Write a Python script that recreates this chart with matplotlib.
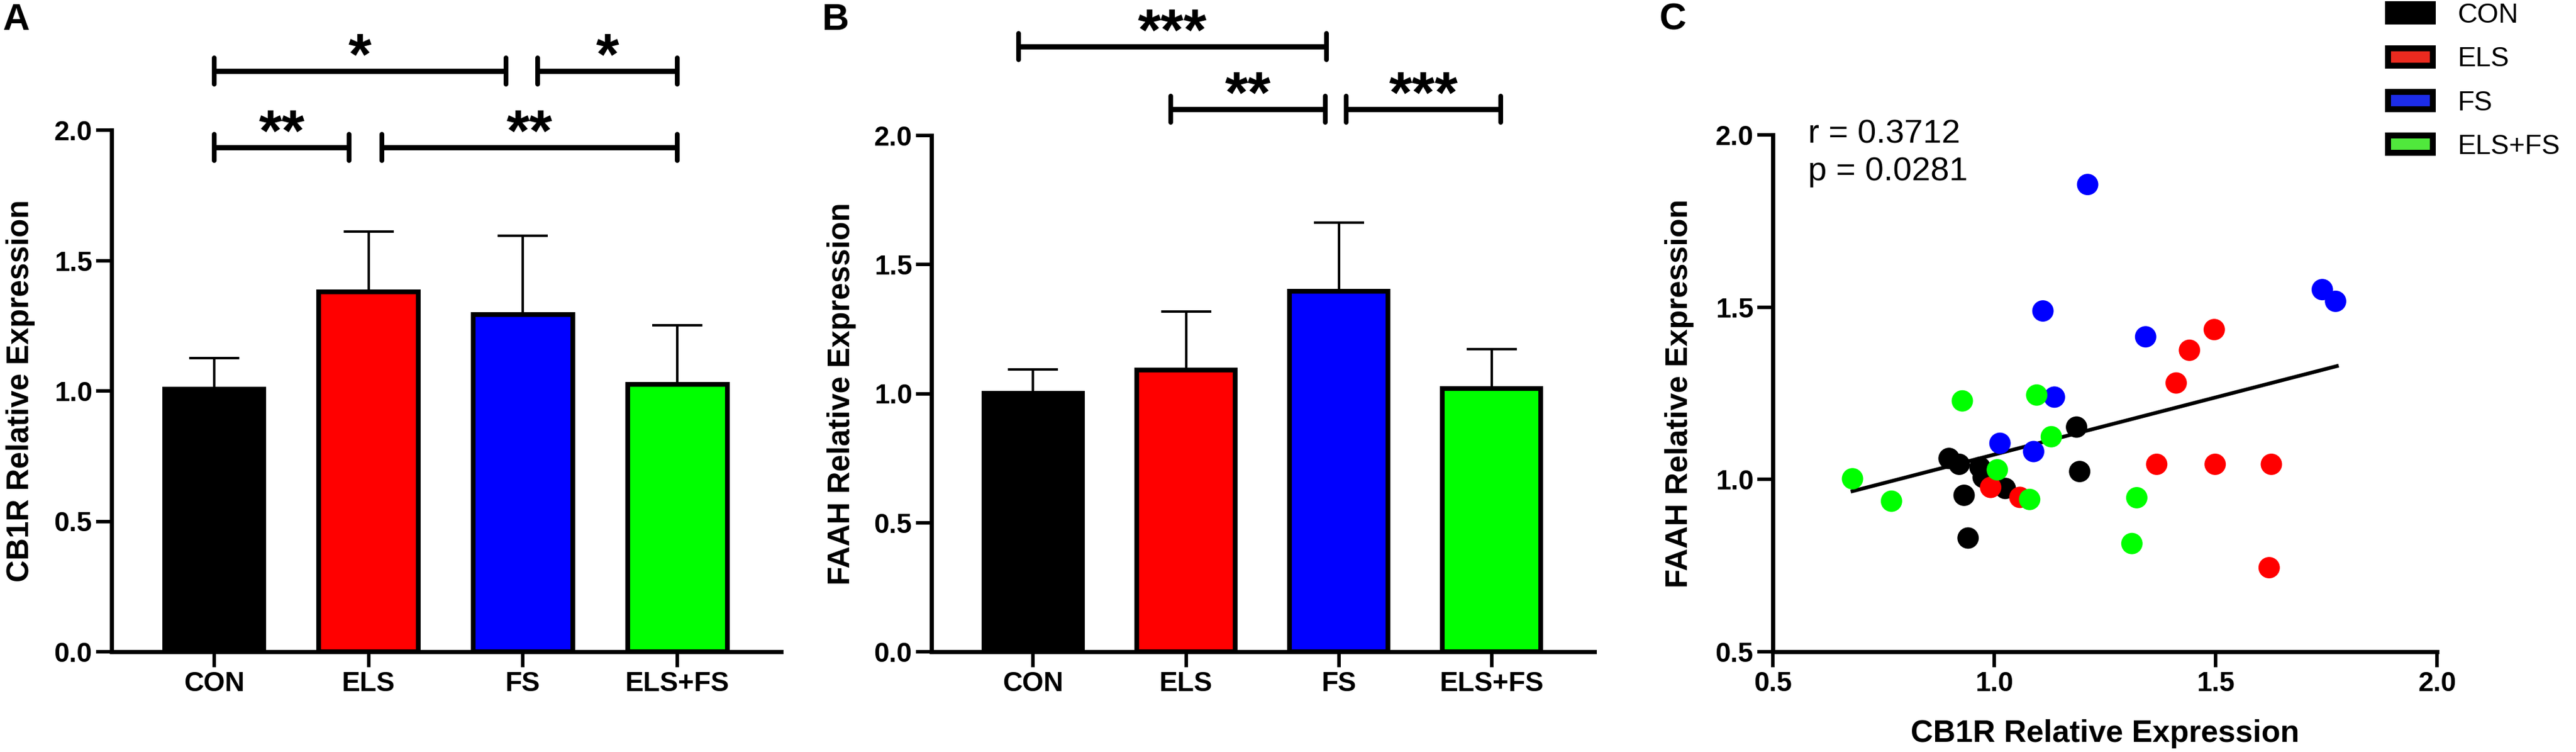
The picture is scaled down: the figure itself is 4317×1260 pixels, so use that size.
import numpy as np
import matplotlib
matplotlib.use('Agg')
import matplotlib.pyplot as plt
from matplotlib.patches import Patch
from matplotlib.textpath import TextPath
from matplotlib.font_manager import FontProperties
from matplotlib.ticker import FormatStrFormatter

# ---------------- data ----------------
categories = ['CON', 'ELS', 'FS', 'ELS+FS']
bar_colors = ['#000000', '#ff0000', '#0000ff', '#00ff00']
legend_colors = ['#000000', '#ea2a1f', '#1c2ce8', '#50e83c']

cb1r_mean = [1.007, 1.380, 1.292, 1.026]
cb1r_sem = [0.120, 0.232, 0.302, 0.226]
faah_mean = [1.002, 1.091, 1.397, 1.020]
faah_sem = [0.091, 0.226, 0.265, 0.153]

a_sig_start = [0.0, 2.095, 0.0, 1.086]
a_sig_end = [1.89, 3.0, 0.874, 3.0]
a_sig_y = [2.2265, 2.2265, 1.934, 1.934]
a_sig_text = ['*', '*', '**', '**']

b_sig_start = [-0.095, 0.90, 2.05]
b_sig_end = [1.92, 1.913, 3.06]
b_sig_y = [2.3445, 2.102, 2.102]
b_sig_text = ['***', '**', '***']

con_cb1r = [0.898, 0.921, 0.968, 0.975, 0.932, 0.941, 1.186, 1.193, 1.025]
con_faah = [1.061, 1.044, 1.035, 1.006, 0.954, 0.830, 1.152, 1.023, 0.974]
els_cb1r = [1.497, 1.441, 1.411, 1.367, 1.499, 1.626, 1.621, 0.992, 1.058]
els_faah = [1.435, 1.375, 1.280, 1.044, 1.044, 1.044, 0.744, 0.977, 0.948]
fs_cb1r = [1.211, 1.110, 1.342, 1.741, 1.771, 1.136, 1.013, 1.089]
fs_faah = [1.856, 1.489, 1.414, 1.551, 1.517, 1.239, 1.105, 1.081]
elsfs_cb1r = [0.680, 0.768, 0.928, 1.096, 1.129, 1.007, 1.080, 1.322, 1.311]
elsfs_faah = [1.002, 0.937, 1.228, 1.245, 1.124, 1.028, 0.942, 0.947, 0.814]

fit_x = [0.680, 1.774]
fit_y = [0.966, 1.329]
r_text = 'r = 0.3712'
p_text = 'p = 0.0281'

# ---------------- style ----------------
W, H, DPI = 4317, 1260, 300
PX = 72.0 / DPI  # points per pixel
plt.rcParams['font.family'] = ['Liberation Sans', 'DejaVu Sans']
plt.rcParams['font.weight'] = 'bold'
plt.rcParams['axes.labelweight'] = 'bold'

fig = plt.figure(figsize=(W / DPI, H / DPI), dpi=DPI)


def rect(l, t, r, b):
    return [l / W, 1 - b / H, (r - l) / W, (b - t) / H]


def style_axes(ax):
    for s in ['top', 'right']:
        ax.spines[s].set_visible(False)
    for s in ['left', 'bottom']:
        ax.spines[s].set_linewidth(1.7)
    ax.tick_params(axis='both', direction='out', length=6.3, width=1.4,
                   labelsize=11)
    ax.tick_params(axis='y', pad=1.5)
    ax.tick_params(axis='x', pad=1.5)


star_fp = FontProperties(family='Liberation Sans', weight='bold')
ext = TextPath((0, 0), '*', size=1, prop=star_fp).get_extents()
star_em_px = 37.0 / ext.height
star_size = star_em_px * PX
star_offset = (26.0 - ext.y0 * star_em_px) * PX


def bar_panel(ax, means, sems, ylabel, starts, ends, ys, texts, top_px):
    x = np.arange(len(categories))
    ax.bar(x, means, width=0.645, color=bar_colors, edgecolor='black',
           linewidth=1.9, zorder=2)
    ax.errorbar(x, means, yerr=[np.zeros(len(sems)), sems], fmt='none',
                ecolor='black', elinewidth=1.0, capsize=10, capthick=1.0,
                zorder=1)
    ax.set_xlim(-0.665, 3.672)
    ax.set_ylim(0, 2.0)
    ax.set_yticks([0, 0.5, 1.0, 1.5, 2.0])
    ax.yaxis.set_major_formatter(FormatStrFormatter('%.1f'))
    ax.set_xticks(x)
    ax.set_xticklabels(categories)
    style_axes(ax)
    ax.set_ylabel(ylabel, fontsize=12.3, va='center')
    ax.yaxis.set_label_coords(-0.1355, 0.5)
    h = 22.0 * 2.0 / (1092 - top_px)
    for x1, x2, y, t in zip(starts, ends, ys, texts):
        ax.plot([x1, x2], [y, y], color='black', lw=2.1, clip_on=False,
                solid_capstyle='butt')
        for xe in (x1, x2):
            ax.plot([xe, xe], [y - h, y + h], color='black', lw=1.9,
                    clip_on=False, solid_capstyle='round')
        ax.annotate(t, xy=((x1 + x2) / 2, y), xytext=(0, star_offset),
                    textcoords='offset points', ha='center', va='baseline',
                    fontsize=star_size, fontweight='bold',
                    annotation_clip=False)


axA = fig.add_axes(rect(187, 218, 1309, 1092))
bar_panel(axA, cb1r_mean, cb1r_sem, 'CB1R Relative Expression',
          a_sig_start, a_sig_end, a_sig_y, a_sig_text, 218)

axB = fig.add_axes(rect(1561, 227, 2672, 1092))
bar_panel(axB, faah_mean, faah_sem, 'FAAH Relative Expression',
          b_sig_start, b_sig_end, b_sig_y, b_sig_text, 227)

# ---------------- panel C ----------------
axC = fig.add_axes(rect(2971, 226, 4084, 1092))
groups = [(con_cb1r, con_faah), (els_cb1r, els_faah),
          (fs_cb1r, fs_faah), (elsfs_cb1r, elsfs_faah)]
axC.scatter(con_cb1r, con_faah, s=74, c=bar_colors[0], edgecolors='none',
            zorder=3, clip_on=False)
axC.plot(fit_x, fit_y, color='black', lw=1.5, zorder=3.5)
for (gx, gy), col in zip(groups[1:], bar_colors[1:]):
    axC.scatter(gx, gy, s=74, c=col, edgecolors='none', zorder=4,
                clip_on=False)
axC.set_xlim(0.5, 2.0)
axC.set_ylim(0.5, 2.0)
axC.set_xticks([0.5, 1.0, 1.5, 2.0])
axC.set_yticks([0.5, 1.0, 1.5, 2.0])
axC.xaxis.set_major_formatter(FormatStrFormatter('%.1f'))
axC.yaxis.set_major_formatter(FormatStrFormatter('%.1f'))
style_axes(axC)
axC.set_ylabel('FAAH Relative Expression', fontsize=12.5, va='center')
axC.yaxis.set_label_coords(-0.141, 0.5)
axC.set_xlabel('CB1R Relative Expression', fontsize=12.5, va='center')
axC.xaxis.set_label_coords(0.5, -0.159)

fig.text(3030 / W, 1 - 226 / H, r_text, fontsize=13.5, fontweight='normal',
         ha='left', va='center')
fig.text(3030 / W, 1 - 288 / H, p_text, fontsize=13.5, fontweight='normal',
         ha='left', va='center')

handles = [Patch(facecolor=c, edgecolor='black', linewidth=2.4, label=l)
           for c, l in zip(legend_colors, categories)]
fig.legend(handles=handles, loc='upper left',
           bbox_to_anchor=(4002 / W, 1 - 4 / H), frameon=False,
           prop=FontProperties(family='Liberation Sans', size=11,
                               weight='normal'),
           handlelength=1.64, handleheight=0.59, handletextpad=0.9,
           labelspacing=0.64, borderpad=0, borderaxespad=0)

# panel letters
for letter, lx in zip(['A', 'B', 'C'], [4, 1378, 2780]):
    fig.text(lx / W, 1 - 4 / H, letter, fontsize=15, fontweight='bold',
             ha='left', va='top')

fig.savefig('out.png', dpi=DPI)
